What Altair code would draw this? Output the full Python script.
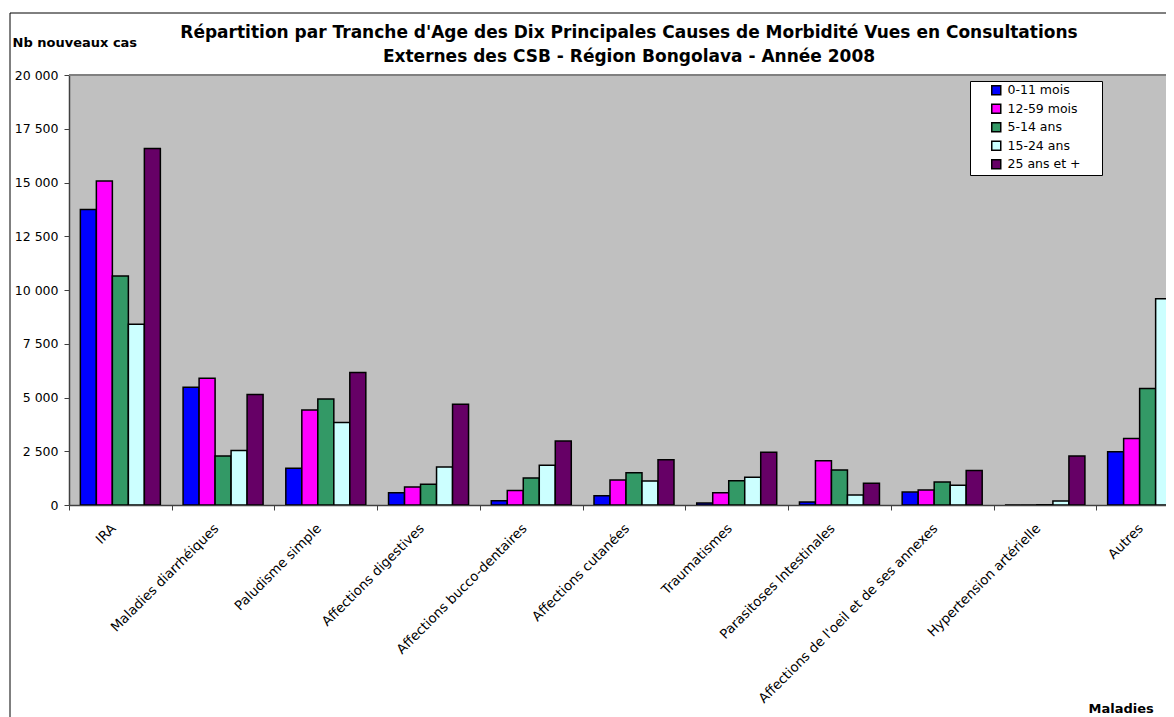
import altair as alt
import pandas as pd

maladies = [
    "IRA",
    "Maladies diarrhéiques",
    "Paludisme simple",
    "Affections digestives",
    "Affections bucco-dentaires",
    "Affections cutanées",
    "Traumatismes",
    "Parasitoses Intestinales",
    "Affections de l'oeil et de ses annexes",
    "Hypertension artérielle",
    "Autres",
]
ages = ["0-11 mois", "12-59 mois", "5-14 ans", "15-24 ans", "25 ans et +"]
colors = ["#0000FF", "#FF00FF", "#339966", "#CCFFFF", "#660066"]

v_0_11_mois = [13750, 5480, 1710, 570, 200, 430, 90, 140, 600, 0, 2480]
v_12_59_mois = [15070, 5900, 4420, 840, 680, 1160, 570, 2060, 700, 0, 3090]
v_5_14_ans = [10650, 2280, 4930, 960, 1260, 1500, 1130, 1630, 1070, 10, 5420]
v_15_24_ans = [8410, 2530, 3840, 1770, 1850, 1120, 1290, 470, 920, 190, 9590]
v_25_ans_plus = [16580, 5140, 6160, 4690, 2980, 2110, 2450, 1010, 1610, 2280, 21000]

y_ticks = [0, 2500, 5000, 7500, 10000, 12500, 15000, 17500, 20000]

title_lines = [
    "Répartition par Tranche d'Age des Dix Principales Causes de Morbidité Vues en Consultations",
    "Externes des CSB - Région Bongolava - Année 2008",
]

series = [v_0_11_mois, v_12_59_mois, v_5_14_ans, v_15_24_ans, v_25_ans_plus]
rows = []
for age, vals in zip(ages, series):
    for m, v in zip(maladies, vals):
        rows.append({"maladie": m, "age": age, "cas": v})
df = pd.DataFrame(rows)

FONT = "DejaVu Sans"
PLOT_W = 1097
PLOT_H = 430
SPAN = 1130
PAD_CHARS = "\u2800" * 2

bars = alt.Chart(df).mark_bar(stroke="black", strokeWidth=1.5, clip=True).encode(
    x=alt.X(
        "maladie:N",
        sort=maladies,
        scale=alt.Scale(range=[0, SPAN], paddingInner=0, paddingOuter=0),
        axis=alt.Axis(
            title="Maladies",
            titleX=1019,
            titleY=207,
            titleAlign="left",
            titleBaseline="alphabetic",
            titleFontSize=13,
            titleFontWeight="bold",
            titleColor="black",
            labelAngle=-45,
            labelAlign="right",
            labelBaseline="top",
            labelFontSize=13.3,
            labelLimit=400,
            labelPadding=11,
            labelOffset=-12,
            labelColor="black",
            tickSize=5,
            tickBand="extent",
            tickColor="#404040",
            domainColor="#404040",
            domainWidth=1.5,
            grid=False,
        ),
    ),
    xOffset=alt.XOffset(
        "age:N", sort=ages, scale=alt.Scale(paddingInner=0, paddingOuter=0.71)
    ),
    y=alt.Y(
        "cas:Q",
        scale=alt.Scale(domain=[0, 20000], nice=False, zero=True),
        axis=alt.Axis(
            values=y_ticks,
            labelExpr="replace(format(datum.value, ','), ',', ' ')",
            labelFontSize=12.5,
            labelPadding=6,
            labelColor="black",
            tickSize=5,
            tickColor="#404040",
            domainColor="#404040",
            domainWidth=1.5,
            grid=False,
            title="Nb nouveaux cas",
            titleAngle=0,
            titleX=-57,
            titleY=-29,
            titleAlign="left",
            titleBaseline="alphabetic",
            titleFontSize=13,
            titleFontWeight="bold",
            titleColor="black",
        ),
    ),
    color=alt.Color(
        "age:N",
        sort=ages,
        scale=alt.Scale(domain=ages, range=colors),
        legend=alt.Legend(
            title=None,
            orient="none",
            legendX=901,
            legendY=6,
            fillColor="white",
            strokeColor="black",
            padding=3,
            symbolType="square",
            symbolSize=81,
            symbolStrokeColor="black",
            symbolStrokeWidth=1.5,
            symbolOffset=17,
            labelFontSize=12.5,
            labelOffset=5,
            labelColor="black",
            rowPadding=2.5,
            labelExpr="datum.label + '" + PAD_CHARS + "'",
        ),
    ),
)

one = pd.DataFrame({"k": [0]})
plot_top = alt.Chart(one).mark_rule(color="#808080", strokeWidth=2).encode(
    x=alt.value(0), x2=alt.value(1200), y=alt.value(0)
)
frame_left = alt.Chart(one).mark_rule(color="black", strokeWidth=1).encode(
    x=alt.value(-59), y=alt.value(-62), y2=alt.value(700)
)
frame_top = alt.Chart(one).mark_rule(color="black", strokeWidth=1).encode(
    x=alt.value(-59), x2=alt.value(1200), y=alt.value(-62)
)

chart = (
    alt.layer(bars, plot_top, frame_left, frame_top)
    .properties(
        width=PLOT_W,
        height=PLOT_H,
        autosize=alt.AutoSizeParams(type="none"),
        padding={"left": 61, "top": 67, "right": 0, "bottom": 212},
        title=alt.TitleParams(
            text=title_lines,
            font=FONT,
            fontSize=17,
            fontWeight="bold",
            color="black",
            anchor="middle",
            lineHeight=24,
            dx=11.5,
            dy=57,
        ),
    )
    .configure(font=FONT)
    .configure_view(fill="#C0C0C0", strokeWidth=0)
)

chart.save("out.html", embed_options={"renderer": "svg", "actions": False})
